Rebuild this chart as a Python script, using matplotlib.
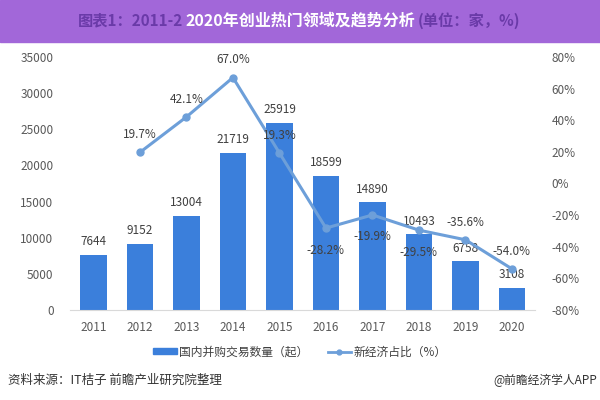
import matplotlib.pyplot as plt
import numpy as np
from matplotlib.patches import Patch
from matplotlib.lines import Line2D

plt.rcParams['font.family'] = ['Noto Sans CJK SC', 'DejaVu Sans']

years = ['2011', '2012', '2013', '2014', '2015', '2016', '2017', '2018', '2019', '2020']
deals = [7644, 9152, 13004, 21719, 25919, 18599, 14890, 10493, 6758, 3108]
share_years = years[1:]
share = [19.7, 42.1, 67.0, 19.3, -28.2, -19.9, -29.5, -35.6, -54.0]
# label placement: +1 above point, -1 below
share_pos = [1, 1, 1, 1, -1, -1, -1, 1, 1]

bar_color = '#3b7fdb'
line_color = '#6d9fd9'
tick_color = '#595959'

fig = plt.figure(figsize=(6, 4), dpi=100)
ax = fig.add_axes([0.117, 0.225, 0.775, 0.6325])
ax2 = ax.twinx()

x = np.arange(len(years))
ax.bar(x, deals, width=0.57, color=bar_color, zorder=2)
for xi, v in zip(x, deals):
    ax.text(xi, v + 900, str(v), ha='center', va='bottom', fontsize=8.5, color='#404040')

ax.set_ylim(0, 35000)
ax.set_yticks(np.arange(0, 35001, 5000))
ax.set_xlim(-0.5, len(years) - 0.5)
ax.set_xticks(x)
ax.set_xticklabels(years)
ax.tick_params(axis='both', length=0, labelsize=8.5, labelcolor=tick_color, pad=8)
ax.tick_params(axis='y', pad=12)
for s in ['top', 'right', 'left']:
    ax.spines[s].set_visible(False)
    ax2.spines[s].set_visible(False)
ax2.spines['bottom'].set_visible(False)
ax.spines['bottom'].set_color('#d9d9d9')

xs = x[1:]
ax2.plot(xs, share, color=line_color, lw=2.2, marker='o', ms=5, zorder=3)
for xi, v, p in zip(xs, share, share_pos):
    off = 7 if p > 0 else -18
    ax2.text(xi, v + off, f'{v:.1f}%', ha='center', va='bottom', fontsize=8.5, color='#404040')
ax2.set_ylim(-80, 80)
ax2.set_yticks(np.arange(-80, 81, 20))
ax2.set_yticklabels([f'{t}%' for t in range(-80, 81, 20)])
ax2.tick_params(axis='y', length=0, labelsize=8.5, labelcolor=tick_color, pad=12)

# legend
handles = [Patch(color=bar_color, label='国内并购交易数量（起）'),
           Line2D([0], [0], color=line_color, lw=2, marker='o', ms=3.5, label='新经济占比（%）')]
fig.legend(handles=handles, loc='center', bbox_to_anchor=(0.5, 0.12), ncol=2,
           frameon=False, fontsize=8.5, handlelength=2.0, handleheight=0.35,
           columnspacing=1.6, handletextpad=0.2, labelcolor='#404040')

# header bar
fig.patches.append(plt.Rectangle((0, 0.895), 1, 0.105, transform=fig.transFigure,
                                 color='#a267d9', zorder=0))
fig.text(78 / 600, 0.948, '图表1：2011-2', ha='left', va='center',
         fontsize=11, color='#6a3aa8', fontweight='bold')
fig.text(520 / 600, 0.948, '(单位：家，%)', ha='right', va='center',
         fontsize=11, color='#6a3aa8', fontweight='bold')
fig.text(0.5, 0.948, '2020年创业热门领域及趋势分析', ha='center', va='center',
         fontsize=11.5, color='white', fontweight='bold')

fig.text(0.013, 0.05, '资料来源：IT桔子 前瞻产业研究院整理', ha='left', va='center',
         fontsize=9, color='#333333')
fig.text(0.995, 0.05, '@前瞻经济学人APP', ha='right', va='center',
         fontsize=8.5, color='#333333')

fig.savefig('out.png', dpi=100)
